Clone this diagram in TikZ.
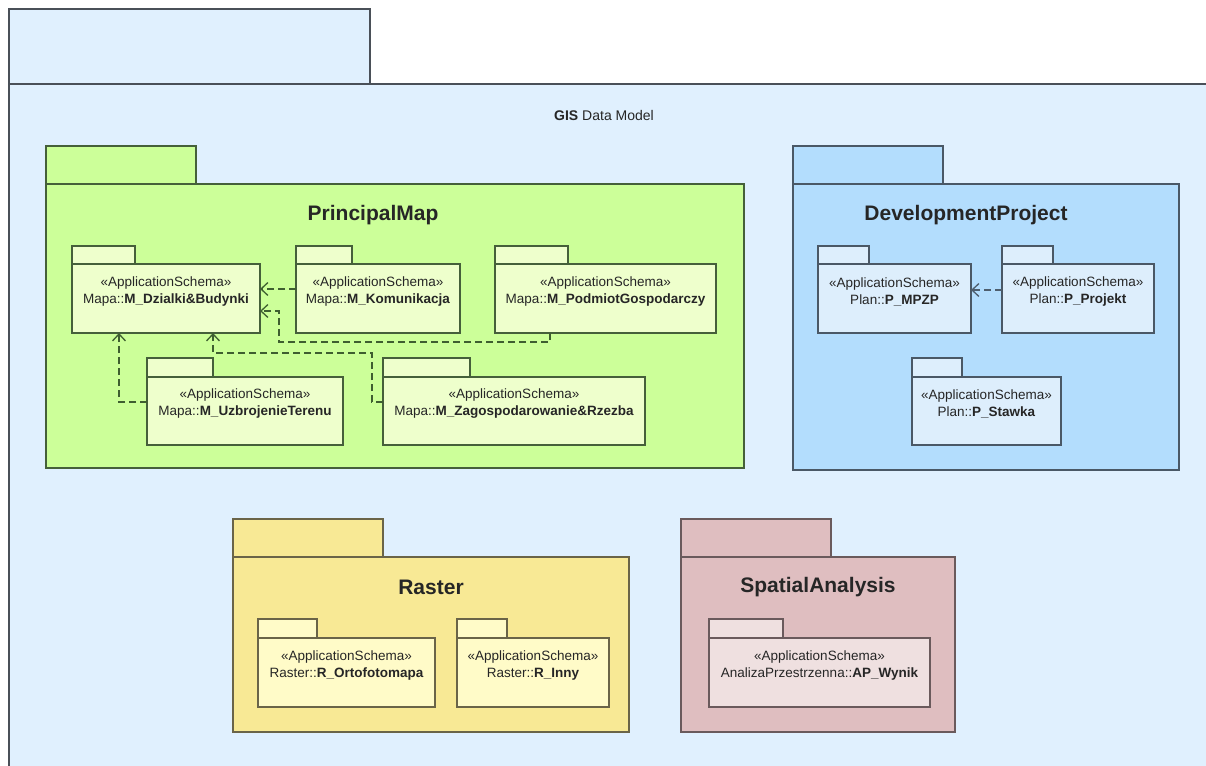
\documentclass[tikz,border=0pt]{standalone}
\usepackage{fontspec}
\setmainfont{Liberation Sans}
\usetikzlibrary{arrows.meta}
\definecolor{outerfill}{HTML}{E0F0FE}
\definecolor{outerline}{HTML}{4A5058}
\definecolor{pmfill}{HTML}{CCFF99}
\definecolor{pmline}{HTML}{45603A}
\definecolor{pminner}{HTML}{EEFFCC}
\definecolor{dpfill}{HTML}{B3DDFD}
\definecolor{dpline}{HTML}{4A5866}
\definecolor{dpinner}{HTML}{DDEEFC}
\definecolor{rfill}{HTML}{F8E995}
\definecolor{rline}{HTML}{6A6448}
\definecolor{rinner}{HTML}{FFFBC8}
\definecolor{safill}{HTML}{DFBEC0}
\definecolor{saline}{HTML}{6A5A5C}
\definecolor{sainner}{HTML}{EFE0E0}
\definecolor{depgreen}{HTML}{3E5F30}
\definecolor{depblue}{HTML}{4E5E6E}
\newcommand\pkgbox[8]{%
  \node[#8, anchor=north west, minimum width={(#6-#2)*1pt}, minimum height={(#7-#5)*1pt}] (#1) at (#2,#5) {};
  \node[#8, anchor=south west, minimum width={(#4-#2)*1pt}, minimum height={(#5-#3)*1pt}] (#1tab) at (#2,#5) {};
}
\begin{document}
\begin{tikzpicture}[x=1pt,y=-1pt,
  pkg/.style={draw, inner sep=0pt, outer sep=0pt, line width=1.3pt},
  outerpkg/.style={pkg, draw=outerline, fill=outerfill},
  pmpkg/.style={pkg, draw=pmline, fill=pmfill},
  pmin/.style={pkg, draw=pmline, fill=pminner, line width=1.2pt},
  dppkg/.style={pkg, draw=dpline, fill=dpfill},
  dpin/.style={pkg, draw=dpline, fill=dpinner, line width=1.2pt},
  rpkg/.style={pkg, draw=rline, fill=rfill},
  rin/.style={pkg, draw=rline, fill=rinner, line width=1.2pt},
  sapkg/.style={pkg, draw=saline, fill=safill},
  sain/.style={pkg, draw=saline, fill=sainner, line width=1.2pt},
  pkgtext/.style={align=center, inner sep=0pt, font=\fontsize{13.5}{17}\selectfont, text=black!85},
  title/.style={inner sep=0pt, font=\fontsize{21}{25}\selectfont\bfseries, text=black!85},
  dep/.style={dash pattern=on 7pt off 4pt, line width=1.3pt, -{Straight Barb[length=7pt,width=13pt]}},
]
\useasboundingbox (0,0) rectangle (1206,765);
\clip (0,0) rectangle (1206,765);
\fill[white] (0,0) rectangle (1206,765);

% outer package
\pkgbox{outer}{9}{9}{370}{84}{1220}{780}{outerpkg}
\node[inner sep=0pt, font=\fontsize{14}{17}\selectfont, text=black!85] (gistitle) at (604,115) {\textbf{GIS} Data Model};

% PrincipalMap
\pkgbox{pm}{46}{146}{196}{184}{744}{468}{pmpkg}
\node[title] (pmtitle) at (373,215) {PrincipalMap};
\pkgbox{dz}{72}{246}{135}{264}{260}{333}{pmin}
\pkgbox{kom}{296}{246}{352}{264}{460}{333}{pmin}
\pkgbox{pod}{495}{246}{568}{264}{716}{333}{pmin}
\pkgbox{uz}{147}{358}{213}{377}{343}{445}{pmin}
\pkgbox{zago}{383}{358}{470}{377}{645}{445}{pmin}
\node[pkgtext] at ([yshift=7pt]dz.center) {«ApplicationSchema»\\Mapa::\textbf{M\_Dzialki\&Budynki}};
\node[pkgtext] at ([yshift=7pt]kom.center) {«ApplicationSchema»\\Mapa::\textbf{M\_Komunikacja}};
\node[pkgtext] at ([yshift=7pt]pod.center) {«ApplicationSchema»\\Mapa::\textbf{M\_PodmiotGospodarczy}};
\node[pkgtext] at ([yshift=7pt]uz.center) {«ApplicationSchema»\\Mapa::\textbf{M\_UzbrojenieTerenu}};
\node[pkgtext] at ([yshift=7pt]zago.center) {«ApplicationSchema»\\Mapa::\textbf{M\_Zagospodarowanie\&Rzezba}};

\coordinate (c2a) at (279,342);
\coordinate (c3a) at (372,353);
\draw[dep, depgreen] ([yshift=9.5pt]kom.west) -- ([yshift=9.5pt]dz.east);
\draw[dep, depgreen] ([xshift=-55.5pt]pod.south) |- (c2a) |- ([yshift=-12.5pt]dz.east);
\draw[dep, depgreen] ([yshift=9pt]zago.west) -| (c3a) -| ([xshift=47pt]dz.south);
\draw[dep, depgreen] ([yshift=9pt]uz.west) -| ([xshift=-47pt]dz.south);

% DevelopmentProject
\pkgbox{dp}{793}{146}{943}{184}{1179}{470}{dppkg}
\node[title] (dptitle) at (966,215) {DevelopmentProject};
\pkgbox{mpzp}{818}{246}{869}{264}{971}{333}{dpin}
\pkgbox{proj}{1002}{246}{1053}{264}{1154}{333}{dpin}
\pkgbox{staw}{912}{358}{962}{377}{1061}{445}{dpin}
\node[pkgtext] at ([yshift=7pt]mpzp.center) {«ApplicationSchema»\\Plan::\textbf{P\_MPZP}};
\node[pkgtext] at ([yshift=7pt]proj.center) {«ApplicationSchema»\\Plan::\textbf{P\_Projekt}};
\node[pkgtext] at ([yshift=7pt]staw.center) {«ApplicationSchema»\\Plan::\textbf{P\_Stawka}};
\draw[dep, depblue] ([yshift=8.5pt]proj.west) -- ([yshift=8.5pt]mpzp.east);

% Raster
\pkgbox{ras}{233}{519}{383}{557}{629}{732}{rpkg}
\node[title] (rastitle) at (431,587) {Raster};
\pkgbox{orto}{258}{619}{317}{638}{435}{707}{rin}
\pkgbox{inny}{457}{619}{507}{638}{609}{707}{rin}
\node[pkgtext] at ([yshift=7pt]orto.center) {«ApplicationSchema»\\Raster::\textbf{R\_Ortofotomapa}};
\node[pkgtext] at ([yshift=7pt]inny.center) {«ApplicationSchema»\\Raster::\textbf{R\_Inny}};

% SpatialAnalysis
\pkgbox{sa}{681}{519}{831}{557}{955}{732}{sapkg}
\node[title] (satitle) at (818,587) {SpatialAnalysis};
\pkgbox{wyn}{709}{619}{783}{638}{930}{707}{sain}
\node[pkgtext] at ([yshift=7pt]wyn.center) {«ApplicationSchema»\\AnalizaPrzestrzenna::\textbf{AP\_Wynik}};
\end{tikzpicture}
\end{document}
